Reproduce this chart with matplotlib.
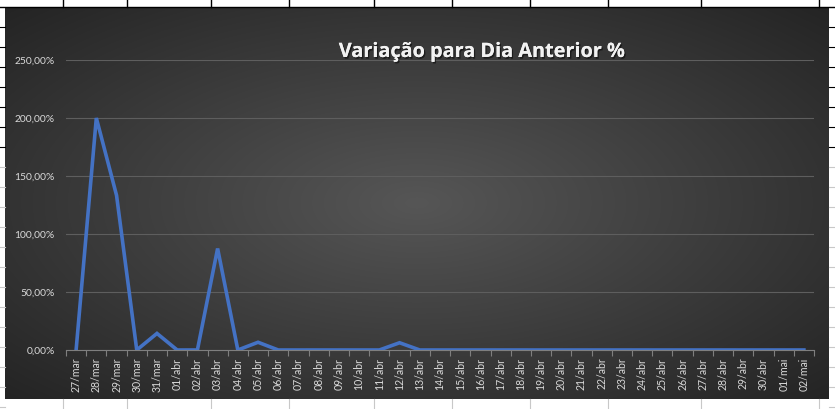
import numpy as np
import matplotlib
matplotlib.use("Agg")
import matplotlib.pyplot as plt
from matplotlib.lines import Line2D
import matplotlib.patheffects as pe

# ---- data ----
dates = (["27/mar", "28/mar", "29/mar", "30/mar", "31/mar"] +
         ["%02d/abr" % d for d in range(1, 31)] +
         ["01/mai", "02/mai"])
variacao = [0.0, 200.0, 133.33, 0.0, 14.29,
            0.0, 0.0, 87.5, 0.0, 6.67,
            0.0, 0.0, 0.0, 0.0, 0.0, 0.0, 6.25, 0.0, 0.0, 0.0,
            0.0, 0.0, 0.0, 0.0, 0.0, 0.0, 0.0, 0.0, 0.0, 0.0,
            0.0, 0.0, 0.0, 0.0, 0.0,
            0.0, 0.0]
yticks = [0, 50, 100, 150, 200, 250]
title = "Variação para Dia Anterior %"

W, H = 835, 409
fig = plt.figure(figsize=(W / 100, H / 100), dpi=100)
fig.patch.set_facecolor("white")

def fx(px):
    return px / W

def fy(py):
    return 1 - py / H

# spreadsheet grid decoration
for x in [63, 127, 211, 289, 374, 452, 530, 608, 701, 819]:
    fig.add_artist(Line2D([fx(x), fx(x)], [fy(0), fy(7)], color="black", lw=1.0))
    fig.add_artist(Line2D([fx(x), fx(x)], [fy(399), fy(409)], color="#c8c8c8", lw=0.8))
fig.add_artist(Line2D([0, 1], [fy(7), fy(7)], color="black", lw=1.0))
for y in range(27, 409, 20):
    c = "black" if y <= 147 else "#c8c8c8"
    fig.add_artist(Line2D([0, fx(5)], [fy(y), fy(y)], color=c, lw=0.8))
    fig.add_artist(Line2D([fx(829), 1], [fy(y), fy(y)], color=c, lw=0.8))

# chart area with radial gradient
bg = fig.add_axes([fx(5), fy(399), fx(829) - fx(5), (399 - 7) / H])
bg.set_axis_off()
gw, gh = 824, 392
xx, yy = np.meshgrid(np.linspace(-1, 1, gw), np.linspace(-1, 1, gh))
r = np.sqrt(xx ** 2 + yy ** 2) / np.sqrt(2)
inner = np.array([0x56, 0x56, 0x56]) / 255
outer = np.array([0x24, 0x24, 0x24]) / 255
img = inner[None, None, :] * (1 - r[..., None]) + outer[None, None, :] * r[..., None]
bg.imshow(img, aspect="auto", extent=[0, 1, 0, 1])
bg.set_xlim(0, 1)
bg.set_ylim(0, 1)

# plot area
ax = fig.add_axes([fx(66), fy(350), (814 - 66) / W, (350 - 60) / H])
ax.patch.set_alpha(0)
x = np.arange(len(dates))
ax.plot(x, variacao, color="#4472C4", lw=2.6, solid_joinstyle="miter", zorder=3)
ax.set_xlim(-0.5, len(dates) - 0.5)
ax.set_ylim(0, 250)
ax.set_yticks(yticks)
ax.set_yticklabels([("%.2f%%" % v).replace(".", ",") for v in yticks],
                   color="#d9d9d9", fontsize=7.4, family="Lato")
ax.set_xticks(x)
ax.set_xticklabels(dates, rotation=90, color="#d9d9d9", fontsize=7.6,
                   family="Lato", va="top")
ax.set_xticks(np.arange(-0.5, len(dates)), minor=True)
ax.tick_params(axis="x", which="major", length=0, pad=5.5)
ax.tick_params(axis="x", which="minor", length=4, color="#7f7f7f", width=0.8)
ax.tick_params(axis="y", length=0, pad=8)
ax.grid(axis="y", color="#5e5e5e", lw=0.8)
for s in ["top", "right", "left"]:
    ax.spines[s].set_visible(False)
ax.spines["bottom"].set_color("#7f7f7f")
ax.spines["bottom"].set_linewidth(0.8)

fig.text(fx(482), fy(57), title, ha="center", va="baseline", color="#f2f2f2",
         fontsize=14.3, fontweight="bold", family="Open Sans",
         path_effects=[pe.withSimplePatchShadow(offset=(1.0, -1.2), shadow_rgbFace="black", alpha=0.5),
                       pe.Normal()])

fig.savefig("out.png", dpi=100, facecolor=fig.get_facecolor())
